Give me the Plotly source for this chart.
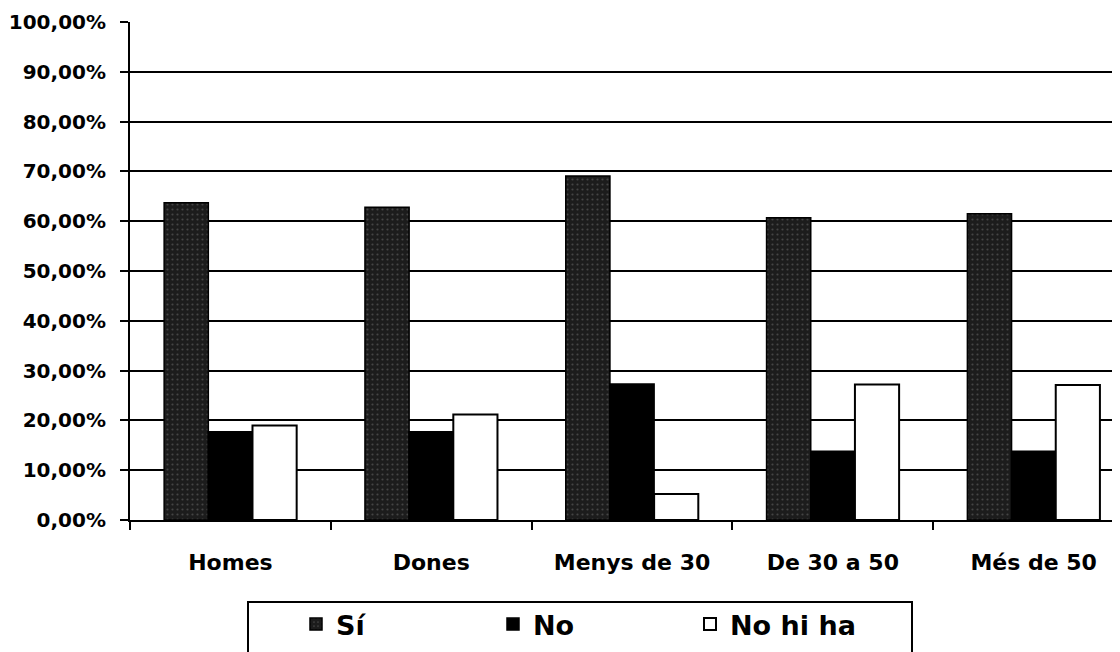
import plotly.graph_objects as go

categories = ["Homes", "Dones", "Menys de 30", "De 30 a 50", "Més de 50"]
si = [0.637, 0.628, 0.691, 0.607, 0.615]
no = [0.177, 0.177, 0.273, 0.138, 0.138]
no_hi_ha = [0.190, 0.212, 0.052, 0.272, 0.271]
series_names = ["Sí", "No", "No hi ha"]
y_ticks = [i / 10 for i in range(11)]

FONT = "DejaVu Sans, Liberation Sans, Arial, sans-serif"

# page body has an 8px margin; compensate so the plot lands where the reference has it
W, H = 1112, 644
L, T, B = 122, 14, 132
PW, PH = W - L, H - T - B  # 990 x 498


def px_x(page_x):
    return (page_x - 8 - L) / PW


def px_y(page_y):
    return (H - B - (page_y - 8)) / PH


fig = go.Figure()
fig.add_trace(go.Bar(
    x=categories, y=si, name=series_names[0],
    marker=dict(color="#1c1c1c", line=dict(color="black", width=1.5),
                pattern=dict(shape=".", fgcolor="#6e6e6e", size=5, solidity=0.15)),
))
fig.add_trace(go.Bar(
    x=categories, y=no, name=series_names[1],
    marker=dict(color="black", line=dict(color="black", width=1.5)),
))
fig.add_trace(go.Bar(
    x=categories, y=no_hi_ha, name=series_names[2],
    marker=dict(color="white", line=dict(color="black", width=2)),
))

fig.update_layout(
    width=W, height=H,
    paper_bgcolor="white", plot_bgcolor="white",
    margin=dict(l=L, r=0, t=T, b=B, pad=0),
    barmode="group", bargap=0.34, bargroupgap=0,
    separators=", ",
    font=dict(family=FONT, color="black", size=20, weight="bold"),
    xaxis=dict(
        range=[-0.5, 4.43], showline=True, linecolor="black", linewidth=2,
        ticks="outside", tickson="boundaries", ticklen=8, tickwidth=2, tickcolor="black",
        tickfont=dict(family=FONT, size=22, color="black", weight="bold"),
        ticklabelstandoff=22, showgrid=False,
    ),
    yaxis=dict(
        range=[0, 1], tickvals=y_ticks, tickformat=".2%",
        showline=True, linecolor="black", linewidth=2,
        ticks="outside", ticklen=8, tickwidth=2, tickcolor="black",
        ticklabelstandoff=10,
        showgrid=True, gridcolor="black", gridwidth=2,
        tickfont=dict(family=FONT, size=20, color="black", weight="bold"),
        zeroline=False,
    ),
    legend=dict(
        orientation="h", x=px_x(296), xanchor="left", y=px_y(600), yanchor="top",
        font=dict(family=FONT, size=27, color="black", weight="bold"),
        entrywidth=152, entrywidthmode="pixels",
        bgcolor="rgba(0,0,0,0)", borderwidth=0, traceorder="normal",
    ),
    shapes=[dict(
        type="rect", xref="paper", yref="paper",
        x0=px_x(248), x1=px_x(912),
        y0=px_y(602), y1=px_y(720),
        line=dict(color="black", width=2), fillcolor="rgba(0,0,0,0)", layer="below",
    )],
)

fig.write_html("out.html")
